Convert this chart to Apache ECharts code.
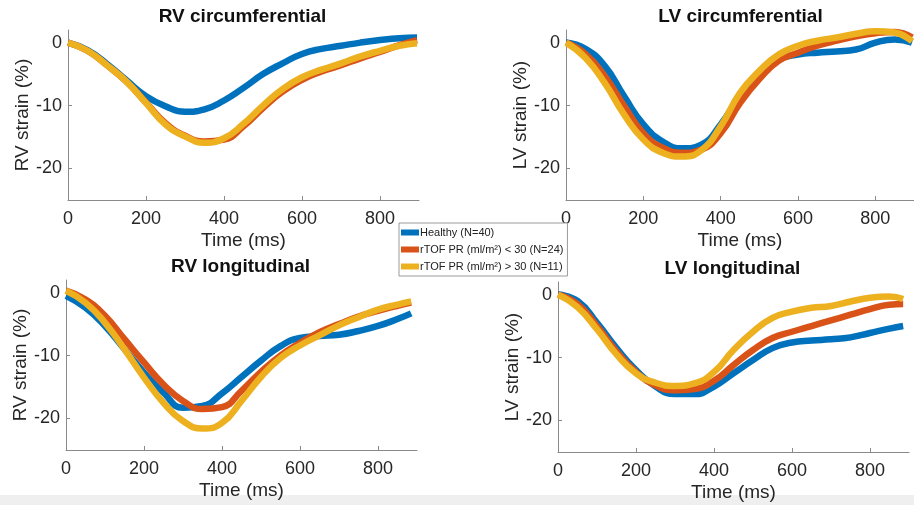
<!DOCTYPE html>
<head>
    <meta charset="utf-8">
    <title>Strain curves</title>
    <style>
        html, body { width: 100%; height: 100%; margin: 0; background: #fff; }
        #main { width: 914px; height: 505px; }
    </style>
</head>
<body>
<div id="main"></div>
<script src="https://cdn.jsdelivr.net/npm/echarts@6/dist/echarts.min.js"></script>
<script type="text/javascript">
  var groups = ['Healthy (N=40)', 'rTOF PR (ml/m²) < 30 (N=24)', 'rTOF PR (ml/m²) > 30 (N=11)'];
  var colors = ['#0072BD', '#D95319', '#EDB120'];
  var titles = ['RV circumferential', 'LV circumferential', 'RV longitudinal', 'LV longitudinal'];
  var yNames = ['RV strain (%)', 'LV strain (%)', 'RV strain (%)', 'LV strain (%)'];
  var xTicks = [0, 200, 400, 600, 800];
  var yTicks = [-20, -10, 0];

  var timeTop = [0, 50, 100, 150, 200, 250, 300, 350, 400, 450, 500, 550, 600, 650, 700, 750, 800, 850, 895];
  var timeBottom = [0, 50, 100, 150, 200, 250, 300, 350, 400, 450, 500, 550, 600, 650, 700, 750, 800, 850, 885];

  // RV circumferential
  var rvCircHealthy = [0, -1.2, -3.4, -6.0, -8.5, -10.1, -11.0, -10.6, -9.2, -7.2, -5.0, -3.3, -1.8, -1.0, -0.5, 0.0, 0.4, 0.7, 0.8];
  var rvCircLow     = [0, -1.3, -3.6, -6.2, -9.5, -12.8, -14.8, -15.7, -15.4, -13.3, -10.4, -7.8, -5.9, -4.6, -3.6, -2.5, -1.5, -0.4, 0.4];
  var rvCircHigh    = [0, -1.3, -3.6, -6.2, -9.6, -13.0, -14.9, -15.9, -15.2, -12.9, -10.0, -7.4, -5.5, -4.3, -3.3, -2.2, -1.3, -0.5, -0.1];

  // LV circumferential
  var lvCircHealthy = [0, -1.0, -3.7, -8.5, -13.0, -15.7, -16.8, -16.2, -13.0, -8.5, -5.0, -2.7, -1.9, -1.6, -1.4, -1.1, 0.0, 0.5, 0.0];
  var lvCircLow     = [0, -1.8, -5.3, -10.0, -14.4, -16.7, -17.5, -17.0, -14.4, -9.6, -5.8, -2.9, -1.6, -0.5, 0.3, 1.0, 1.5, 1.7, 0.8];
  var lvCircHigh    = [0, -2.4, -6.4, -11.4, -15.4, -17.5, -18.1, -17.1, -13.3, -8.0, -4.5, -1.9, -0.5, 0.3, 0.8, 1.4, 1.8, 1.6, 0.2];

  // RV longitudinal
  var rvLongHealthy = [-0.5, -2.4, -5.3, -9.0, -12.7, -15.9, -18.3, -18.0, -16.0, -13.4, -10.8, -8.5, -7.2, -6.9, -6.7, -6.1, -5.3, -4.2, -3.3];
  var rvLongLow     = [0.3, -1.1, -3.7, -7.4, -11.1, -14.6, -17.2, -18.5, -18.2, -15.6, -12.6, -10.0, -8.0, -6.3, -5.0, -3.8, -2.9, -2.1, -1.6];
  var rvLongHigh    = [0.3, -1.6, -4.8, -9.0, -13.5, -17.5, -20.4, -21.6, -20.7, -17.2, -13.4, -10.4, -8.4, -6.8, -5.2, -3.9, -2.7, -1.9, -1.4];

  // LV longitudinal
  var lvLongHealthy = [0, -1.0, -4.5, -8.5, -12.0, -14.6, -15.8, -15.8, -14.6, -12.5, -10.4, -8.5, -7.6, -7.3, -7.1, -6.8, -6.1, -5.4, -5.0];
  var lvLongLow     = [0, -1.5, -5.0, -9.0, -12.3, -14.4, -15.2, -15.0, -13.7, -11.2, -8.8, -6.9, -5.9, -5.0, -4.1, -3.2, -2.3, -1.6, -1.5];
  var lvLongHigh    = [0, -2.0, -5.5, -9.5, -12.5, -14.0, -14.5, -14.1, -12.3, -8.8, -5.9, -3.7, -2.7, -2.1, -1.8, -1.1, -0.5, -0.3, -0.7];

  var panels = [
    { time: timeTop, lines: [rvCircHealthy, rvCircLow, rvCircHigh] },
    { time: timeTop, lines: [lvCircHealthy, lvCircLow, lvCircHigh] },
    { time: timeBottom, lines: [rvLongHealthy, rvLongLow, rvLongHigh] },
    { time: timeBottom, lines: [lvLongHealthy, lvLongLow, lvLongHigh] }
  ];

  var gridPos = [
    { left: 68, top: 30, width: 351, height: 170 },
    { left: 566, top: 30, width: 351, height: 170 },
    { left: 66, top: 280, width: 351, height: 170 },
    { left: 558, top: 282, width: 351, height: 170 }
  ];

  var font = 'Liberation Sans, Arial, sans-serif';
  var axisColor = '#8a8a8a';
  var textColor = '#262626';

  var grid = [], xAxis = [], yAxis = [], title = [], series = [];

  for (var i = 0; i < 4; i++) {
    var g = gridPos[i];
    grid.push(g);
    title.push({
      text: titles[i],
      left: g.left + g.width / 2 - 6,
      top: g.top - 28,
      textAlign: 'center',
      textStyle: { fontFamily: font, fontSize: 19, fontWeight: 'bold', color: '#111' }
    });
    xAxis.push({
      type: 'value', gridIndex: i, min: 0, max: 900,
      name: 'Time (ms)', nameLocation: 'middle', nameGap: 31,
      nameTextStyle: { fontFamily: font, fontSize: 19, color: textColor },
      axisLine: { show: true, onZero: false, lineStyle: { color: axisColor, width: 1 } },
      axisTick: { show: true, inside: true, length: 4, customValues: xTicks, lineStyle: { color: axisColor } },
      axisLabel: { customValues: xTicks, margin: 10, fontFamily: font, fontSize: 18, color: textColor },
      splitLine: { show: false }
    });
    yAxis.push({
      type: 'value', gridIndex: i, min: -25, max: 2,
      name: yNames[i], nameLocation: 'middle', nameGap: 32,
      nameTextStyle: { fontFamily: font, fontSize: 19, color: textColor },
      axisLine: { show: true, onZero: false, lineStyle: { color: axisColor, width: 1 } },
      axisTick: { show: true, inside: true, length: 4, customValues: yTicks, lineStyle: { color: axisColor } },
      axisLabel: { customValues: yTicks, margin: 6, fontFamily: font, fontSize: 18, color: textColor },
      splitLine: { show: false }
    });
    for (var k = 0; k < 3; k++) {
      var pts = [];
      for (var j = 0; j < panels[i].time.length; j++) {
        pts.push([panels[i].time[j], panels[i].lines[k][j]]);
      }
      series.push({
        name: groups[k], type: 'line', xAxisIndex: i, yAxisIndex: i,
        data: pts, smooth: 0.5, showSymbol: false, symbol: 'none',
        lineStyle: { color: colors[k], width: 6.5 },
        itemStyle: { color: colors[k] },
        z: 2 + k
      });
    }
  }

  var myChart = echarts.init(document.getElementById('main'));
  myChart.setOption({
    animation: false,
    backgroundColor: '#fff',
    title: title,
    grid: grid,
    xAxis: xAxis,
    yAxis: yAxis,
    legend: {
      data: groups,
      orient: 'vertical',
      left: 399, top: 223,
      padding: [4, 4, 4, 2],
      itemGap: 6,
      itemWidth: 18, itemHeight: 6,
      icon: 'rect',
      borderColor: '#9a9a9a', borderWidth: 1,
      backgroundColor: '#fff',
      textStyle: { fontFamily: font, fontSize: 11, color: '#222', padding: [0, 0, 0, -4] }
    },
    graphic: [
      { type: 'rect', shape: { x: 0, y: 495, width: 914, height: 10 }, style: { fill: '#efefef' }, silent: true }
    ],
    series: series
  });
</script>
</body>
